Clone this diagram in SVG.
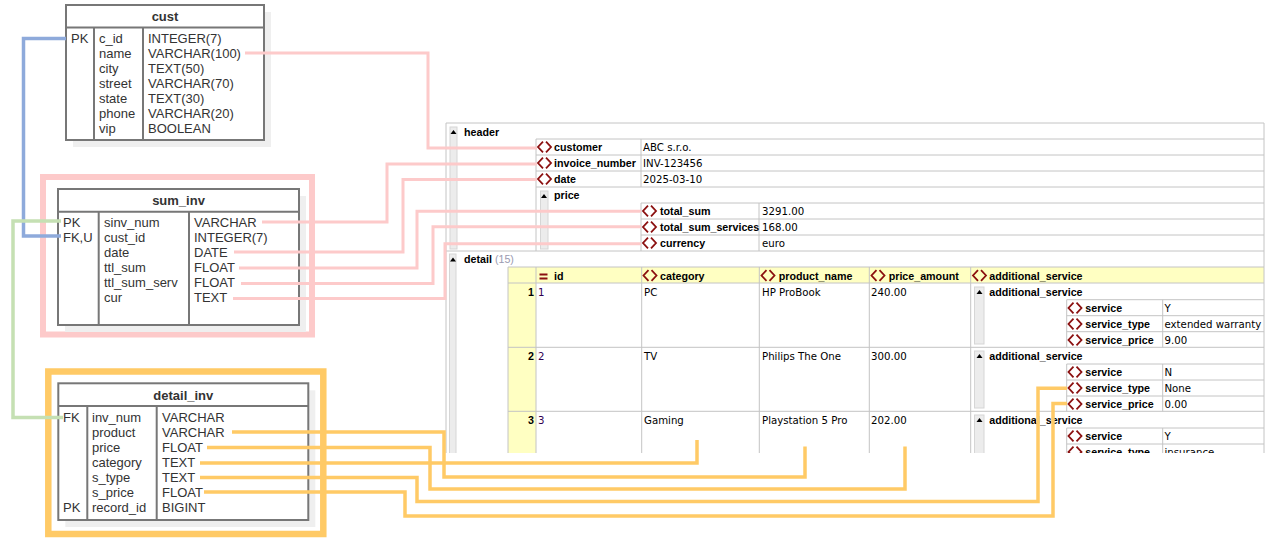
<svg xmlns="http://www.w3.org/2000/svg" width="1266" height="542" viewBox="0 0 1266 542">
<style>
.sh{fill:#efefef}
.tb{fill:#fff;stroke:#777;stroke-width:2}
.tl{stroke:#777;stroke-width:2;fill:none}
.t{font-family:"Liberation Sans",Arial,sans-serif;font-size:13px;fill:#333}
.tt{font-weight:bold;text-anchor:middle}
.g{stroke:#c4c4c4;stroke-width:1;fill:none}
.k{font-family:"Liberation Sans",Arial,sans-serif;font-weight:bold;font-size:10.7px;fill:#000}
.v{font-family:"DejaVu Sans",Verdana,sans-serif;font-size:10.2px;fill:#000}
.n{font-family:"DejaVu Sans",Verdana,sans-serif;font-size:10.2px;fill:#300050}
.sb{fill:#ececec;stroke:#d6d6d6;stroke-width:1}
.y{fill:#ffffc2}
.cp{fill:none;stroke:#fdcaca;stroke-width:3}
.co{fill:none;stroke:#ffca66;stroke-width:3.5}
.cb{fill:none;stroke:#8eaadb;stroke-width:3.5}
.cg{fill:none;stroke:#c5e0b3;stroke-width:3.5}
</style>
<defs>
<g id="ic"><path d="M6,-5.3 L1,0 L6,5.3 M9,-5.3 L14,0 L9,5.3" fill="none" stroke="#8b1010" stroke-width="1.8"/></g>
<g id="tri"><path d="M-3,2 L0,-2 L3,2 Z" fill="#000"/></g>
<clipPath id="pc"><rect x="440" y="115" width="830" height="338"/></clipPath>
</defs>

<!-- highlight frames -->
<rect x="43" y="177" width="269" height="157.5" fill="none" stroke="#fdcaca" stroke-width="6"/>
<rect x="48.3" y="371.5" width="275" height="162.5" fill="none" stroke="#ffca66" stroke-width="6.5"/>

<g id="node-cust">
<rect class="sh" x="73" y="12" width="198" height="135"/>
<rect class="tb" x="66" y="5" width="198" height="135"/>
<path class="tl" d="M66,27.5 H264 M94,27.5 V140 M143,27.5 V140"/>
<text class="t tt" x="165" y="20.5">cust</text>
<g class="t">
<text x="71" y="43">PK</text>
<text x="99" y="43">c_id</text><text x="148" y="43">INTEGER(7)</text>
<text x="99" y="58">name</text><text x="148" y="58">VARCHAR(100)</text>
<text x="99" y="73">city</text><text x="148" y="73">TEXT(50)</text>
<text x="99" y="88">street</text><text x="148" y="88">VARCHAR(70)</text>
<text x="99" y="103">state</text><text x="148" y="103">TEXT(30)</text>
<text x="99" y="118">phone</text><text x="148" y="118">VARCHAR(20)</text>
<text x="99" y="133">vip</text><text x="148" y="133">BOOLEAN</text>
</g>
</g>

<g id="node-sum_inv">
<rect class="sh" x="65" y="196" width="241" height="136"/>
<rect class="tb" x="58" y="189" width="241" height="136"/>
<path class="tl" d="M58,211.7 H299 M98.7,211.7 V325 M189,211.7 V325"/>
<text class="t tt" x="178.5" y="204.5">sum_inv</text>
<g class="t">
<text x="63" y="226.5">PK</text><text x="104" y="226.5">sinv_num</text><text x="194" y="226.5">VARCHAR</text>
<text x="63" y="241.5">FK,U</text><text x="104" y="241.5">cust_id</text><text x="194" y="241.5">INTEGER(7)</text>
<text x="104" y="256.5">date</text><text x="194" y="256.5">DATE</text>
<text x="104" y="271.5">ttl_sum</text><text x="194" y="271.5">FLOAT</text>
<text x="104" y="286.5">ttl_sum_serv</text><text x="194" y="286.5">FLOAT</text>
<text x="104" y="301.5">cur</text><text x="194" y="301.5">TEXT</text>
</g>
</g>

<g id="node-detail_inv">
<rect class="sh" x="65.3" y="390.3" width="250" height="136.7"/>
<rect class="tb" x="58.3" y="383.3" width="250" height="136.7"/>
<path class="tl" d="M58.3,406 H308.3 M87.3,406 V520 M156.7,406 V520"/>
<text class="t tt" x="183.3" y="399.5">detail_inv</text>
<g class="t">
<text x="63" y="421.5">FK</text><text x="92" y="421.5">inv_num</text><text x="162" y="421.5">VARCHAR</text>
<text x="92" y="436.5">product</text><text x="162" y="436.5">VARCHAR</text>
<text x="92" y="451.5">price</text><text x="162" y="451.5">FLOAT</text>
<text x="92" y="466.5">category</text><text x="162" y="466.5">TEXT</text>
<text x="92" y="481.5">s_type</text><text x="162" y="481.5">TEXT</text>
<text x="92" y="496.5">s_price</text><text x="162" y="496.5">FLOAT</text>
<text x="63" y="511.5">PK</text><text x="92" y="511.5">record_id</text><text x="162" y="511.5">BIGINT</text>
</g>
</g>

<g id="node-xml" clip-path="url(#pc)">
<rect x="446" y="123" width="818" height="340" fill="#fff"/>
<rect class="y" x="508" y="267" width="756" height="16"/>
<rect class="y" x="508" y="283" width="28" height="180"/>
<path class="g" d="M446,123 V463 M446,123 H1264 M1264,123 V463
M536,139 H1264 M536,155 H1264 M536,171 H1264 M536,187 H1264
M641,203 H1264 M641,219 H1264 M641,235 H1264 M446,251 H1264
M536,139 V251 M641,139 V187 M641,203 V251 M759,203 V251
M508,267 H1264 M508,283 H1264 M508,347.3 H1264 M508,411.3 H1264
M508,267 V463 M536,267 V463 M641.7,267 V463 M759.3,267 V463 M869.3,267 V463 M970.7,267 V463
M1066.7,299.7 H1264 M1066.7,315.7 H1264 M1066.7,331.7 H1264 M1066.7,299.7 V347.3 M1162.7,299.7 V347.3
M1066.7,364 H1264 M1066.7,380 H1264 M1066.7,396 H1264 M1066.7,364 V411.3 M1162.7,364 V411.3
M1066.7,428 H1264 M1066.7,444 H1264 M1066.7,460 H1264 M1066.7,428 V463 M1162.7,428 V463"/>
<rect class="sb" x="450" y="127" width="7" height="122"/>
<rect class="sb" x="540.5" y="191" width="7.5" height="58"/>
<rect class="sb" x="449.5" y="254" width="6.5" height="205"/>
<rect class="sb" x="974.5" y="287" width="9.5" height="57"/>
<rect class="sb" x="974.5" y="351" width="9.5" height="57"/>
<rect class="sb" x="974.5" y="415" width="9.5" height="57"/>
<use href="#tri" x="453.5" y="132"/>
<use href="#tri" x="544" y="196"/>
<use href="#tri" x="453" y="259.5"/>
<use href="#tri" x="979.5" y="292"/>
<use href="#tri" x="979.5" y="356"/>
<use href="#tri" x="979.5" y="420"/>

<text class="k" x="464" y="135.8">header</text>
<use href="#ic" x="537" y="147"/><text class="k" x="554" y="150.8">customer</text><text class="v" x="643" y="150.6">ABC s.r.o.</text>
<use href="#ic" x="537" y="163"/><text class="k" x="554" y="166.8">invoice_number</text><text class="v" x="643" y="166.6">INV-123456</text>
<use href="#ic" x="537" y="179"/><text class="k" x="554" y="182.8">date</text><text class="v" x="643" y="182.6">2025-03-10</text>
<text class="k" x="554" y="198.8">price</text>
<use href="#ic" x="642" y="211"/><text class="k" x="660" y="214.8">total_sum</text><text class="v" x="762" y="214.6">3291.00</text>
<use href="#ic" x="642" y="227"/><text class="k" x="660" y="230.8">total_sum_services</text><text class="v" x="762" y="230.6">168.00</text>
<use href="#ic" x="642" y="243"/><text class="k" x="660" y="246.8">currency</text><text class="v" x="762" y="246.6">euro</text>

<text class="k" x="464" y="263">detail <tspan font-weight="normal" fill="#9a9ab0">(15)</tspan></text>
<rect x="539.5" y="273.5" width="8" height="2" fill="#8b1010"/><rect x="539.5" y="277.5" width="8" height="2" fill="#8b1010"/>
<text class="k" x="554" y="279.5">id</text>
<use href="#ic" x="642.5" y="275.5"/><text class="k" x="660" y="279.5">category</text>
<use href="#ic" x="760.5" y="275.5"/><text class="k" x="778.7" y="279.5">product_name</text>
<use href="#ic" x="870.5" y="275.5"/><text class="k" x="888.7" y="279.5">price_amount</text>
<use href="#ic" x="972" y="275.5"/><text class="k" x="989.3" y="279.5">additional_service</text>

<text class="k" x="534" y="295.8" text-anchor="end">1</text><text class="n" x="538" y="295.6">1</text>
<text class="v" x="644" y="295.6">PC</text><text class="v" x="762" y="295.6">HP ProBook</text><text class="v" x="871" y="295.6">240.00</text>
<text class="k" x="989.3" y="295.8">additional_service</text>
<use href="#ic" x="1067.5" y="308"/><text class="k" x="1085.3" y="311.8">service</text><text class="v" x="1164.5" y="311.6">Y</text>
<use href="#ic" x="1067.5" y="324"/><text class="k" x="1085.3" y="327.8">service_type</text><text class="v" x="1164.5" y="327.6">extended warranty</text>
<use href="#ic" x="1067.5" y="340"/><text class="k" x="1085.3" y="343.8">service_price</text><text class="v" x="1164.5" y="343.6">9.00</text>

<text class="k" x="534" y="359.8" text-anchor="end">2</text><text class="n" x="538" y="359.6">2</text>
<text class="v" x="644" y="359.6">TV</text><text class="v" x="762" y="359.6">Philips The One</text><text class="v" x="871" y="359.6">300.00</text>
<text class="k" x="989.3" y="359.8">additional_service</text>
<use href="#ic" x="1067.5" y="372"/><text class="k" x="1085.3" y="375.8">service</text><text class="v" x="1164.5" y="375.6">N</text>
<use href="#ic" x="1067.5" y="388"/><text class="k" x="1085.3" y="391.8">service_type</text><text class="v" x="1164.5" y="391.6">None</text>
<use href="#ic" x="1067.5" y="404"/><text class="k" x="1085.3" y="407.8">service_price</text><text class="v" x="1164.5" y="407.6">0.00</text>

<text class="k" x="534" y="423.8" text-anchor="end">3</text><text class="n" x="538" y="423.6">3</text>
<text class="v" x="644" y="423.6">Gaming</text><text class="v" x="762" y="423.6">Playstation 5 Pro</text><text class="v" x="871" y="423.6">202.00</text>
<text class="k" x="989.3" y="423.8">additional_service</text>
<use href="#ic" x="1067.5" y="436"/><text class="k" x="1085.3" y="439.8">service</text><text class="v" x="1164.5" y="439.6">Y</text>
<use href="#ic" x="1067.5" y="452"/><text class="k" x="1085.3" y="455.8">service_type</text><text class="v" x="1164.5" y="455.6">insurance</text>
</g>

<g id="connectors">
<path class="cb" d="M66,38.5 H23.5 V236 H61"/>
<path class="cg" d="M61,221 H13 V417.5 H63"/>
<path class="cp" d="M245,53 H428 V148 H537"/>
<path class="cp" d="M262,222 H387 V164 H537"/>
<path class="cp" d="M234,252 H403 V179.5 H537"/>
<path class="cp" d="M239,268 H417 V211.3 H641"/>
<path class="cp" d="M241,283.5 H433 V226.8 H641"/>
<path class="cp" d="M233,298.5 H445 V243.8 H641"/>
<path class="co" d="M232,432 H444 V477 H805 V446.5"/>
<path class="co" d="M207,447.5 H430 V489 H905 V446.5"/>
<path class="co" d="M200,463 H697 V440"/>
<path class="co" d="M200,477.5 H417 V501.5 H1038 V388.3 H1067"/>
<path class="co" d="M204,492 H405 V516 H1053 V403.5 H1067"/>
</g>
</svg>
